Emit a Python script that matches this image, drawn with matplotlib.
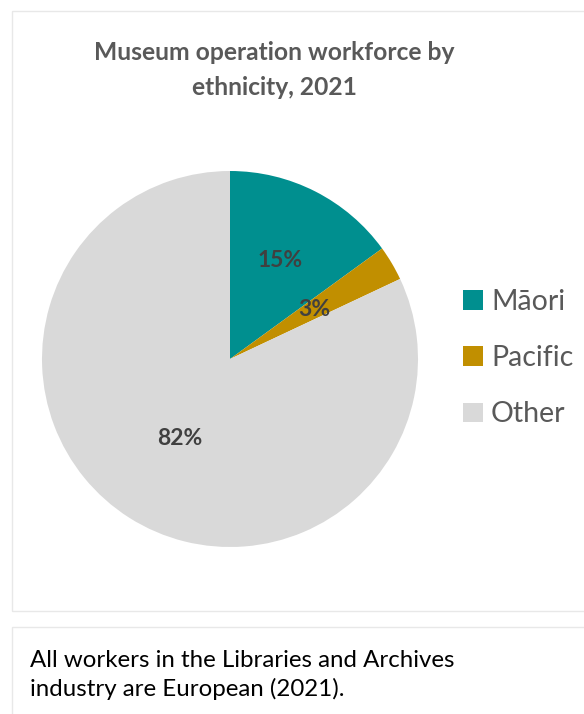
import matplotlib
matplotlib.use('Agg')
import matplotlib.pyplot as plt
import numpy as np
from matplotlib.patches import Rectangle

categories = ['Māori', 'Pacific', 'Other']
shares = [15, 3, 82]
colors = ['#008F8F', '#C18F00', '#D9D9D9']

title = 'Museum operation workforce by\nethnicity, 2021'
note = 'All workers in the Libraries and Archives\nindustry are European (2021).'

W, H = 584, 714
fig = plt.figure(figsize=(W / 100, H / 100), dpi=100)
plt.rcParams['font.family'] = ['Lato', 'DejaVu Sans']

def px(x, y):
    # pixel coords (origin top-left) -> figure fraction
    return x / W, 1 - y / H

# chart frame and note frame
for top, bottom in [(11, 611), (627, 720)]:
    x0, y0 = px(12, bottom)
    fig.patches.append(Rectangle((x0, y0), 1.2, (bottom - top) / H, transform=fig.transFigure,
                                 facecolor='white', edgecolor='#E8E8E8', linewidth=1,
                                 zorder=-5))

# pie axes: centre (230, 359), radius 188 px
cx, cy, r = 230, 359, 188
ax = fig.add_axes([(cx - r) / W, (H - cy - r) / H, 2 * r / W, 2 * r / H])
ax.set_zorder(2)
ax.patch.set_visible(False)
wedges, texts = ax.pie(shares, colors=colors, startangle=90, counterclock=False,
                       radius=1, wedgeprops=dict(linewidth=0))

# percentage labels, each at its own distance from the centre
label_dist = [0.59, 0.52, 0.50]
for w, v, d in zip(wedges, shares, label_dist):
    mid = np.deg2rad((w.theta1 + w.theta2) / 2)
    ax.text(d * np.cos(mid), d * np.sin(mid), f'{v}%', ha='center', va='center',
            fontsize=16.5, fontweight='bold', color='#404040')
ax.set_xlim(-1, 1)
ax.set_ylim(-1, 1)
ax.set_aspect('equal')
ax.axis('off')

fig.text(*px(274, 70), title, ha='center', va='center', fontsize=17.7, fontweight='bold',
         color='#595959', linespacing=1.6)

leg = fig.legend(wedges, categories, loc='center left', bbox_to_anchor=px(437, 358),
                 frameon=False, fontsize=20.5, labelcolor='#595959', handlelength=0.7,
                 handleheight=0.7, handletextpad=0.3, labelspacing=1.07)

fig.text(*px(30, 675), note, ha='left', va='center', fontsize=17.3, color='black',
         linespacing=1.4)

fig.savefig('out.png', dpi=100)
